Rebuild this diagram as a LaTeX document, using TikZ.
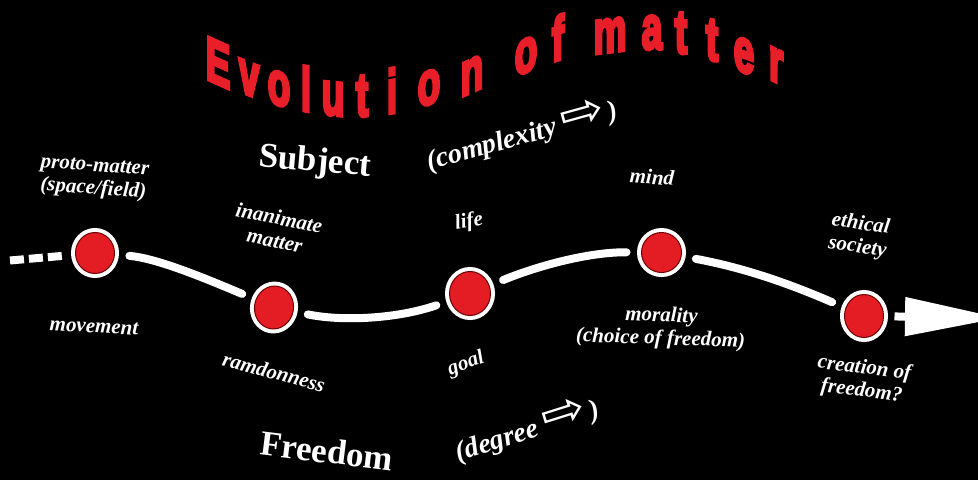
\documentclass[tikz,border=0pt]{standalone}
\usepackage{fontspec}
\setmainfont{Liberation Serif}
\newfontfamily\titlefont{Liberation Sans}[BoldFeatures={FakeBold=6}]
\newfontfamily\symfont{DejaVu Sans}
\usetikzlibrary{shapes.geometric,arrows.meta}
\definecolor{titlered}{RGB}{232,30,40}
\definecolor{dotred}{RGB}{228,28,36}
\definecolor{ringdark}{RGB}{110,0,0}
\newcommand{\hollowarrow}{{\normalfont\symfont\fontsize{28}{28}\selectfont\scalebox{1.9}[1.7]{⇨}}}
\begin{document}
\begin{tikzpicture}[x=1pt,y=-1pt,
  lbl/.style={text=white, font=\bfseries\itshape\fontsize{21}{23}\selectfont, align=center, inner sep=0pt},
  bigword/.style={text=white, font=\bfseries\fontsize{35}{36}\selectfont, inner sep=0pt},
  paren/.style={text=white, font=\bfseries\itshape\fontsize{28}{29}\selectfont, inner sep=0pt},
  ttl/.style={text=titlered, font=\titlefont\bfseries\fontsize{56}{56}\selectfont, inner sep=0pt, anchor=base, xscale=0.66, yscale=1.1},
  dotc/.style={ellipse, inner sep=0pt, outer sep=0pt, fill=dotred, draw=ringdark, line width=1pt, preaction={draw=white, line width=9pt}},
  conn/.style={draw=white, line width=8pt, line cap=round, shorten <=15pt, shorten >=15pt},
]
\useasboundingbox (0,0) rectangle (978,480);
\clip (0,0) rectangle (978,480);
\fill[black] (0,0) rectangle (978,480);

% title letters
\foreach \ch/\x/\y/\s [count=\i] in {E/218/84/-0.45, v/249/95/-0.4, o/279/105/-0.3, l/306/111/-0.2, u/333/115/-0.1, t/362/116/0, i/392/113/0.15, o/429/104/0.3, n/472/92/0.45, o/526/72/0.4, f/558/60/0.3, m/610/52/0.12, a/652/49/0, t/681/53/-0.1, t/712/60/-0.2, e/744/72/-0.35, r/776/82/-0.5}
  \node[yslant=\s, ttl] (t\i) at (\x,\y) {\ch};

% dots
\node[dotc, minimum width=39pt, minimum height=41pt] (c1) at (95,253) {};
\node[dotc, minimum width=39pt, minimum height=43pt, rotate=-10] (c2) at (274,307.5) {};
\node[dotc, minimum width=41pt, minimum height=44pt] (c3) at (470,293.5) {};
\node[dotc, minimum width=40pt, minimum height=40pt] (c4) at (661.5,252.5) {};
\node[dotc, minimum width=39pt, minimum height=43pt] (c5) at (864,316) {};

% connectors
\coordinate (start) at (10,260.5);
\coordinate (tip) at (1001,318);
\draw[white, line width=8pt, dash pattern=on 14pt off 5pt, shorten >=10.5pt] (start) -- (c1);
\draw[conn] (c1) .. controls (155,258) and (200,276) .. (c2);
\draw[conn] (c2) .. controls (345,322) and (400,318) .. (c3);
\draw[conn] (c3) .. controls (540,265) and (590,252) .. (c4);
\draw[conn] (c4) .. controls (745,268) and (790,284) .. (c5);
\draw[white, line width=8pt, shorten <=11pt, -{Triangle[length=96pt,width=37pt]}] (c5) -- (tip);

% labels
\node[lbl, rotate=-4] (proto) at (94,179) {proto-matter\\(space/field)};
\node[lbl, rotate=-11] (inan) at (277,229) {inanimate\\matter};
\node[lbl, rotate=-3] (move) at (94,327) {movement};
\node[lbl, rotate=-15] (ramd) at (274,372) {ramdonness};
\node[lbl, rotate=10] (life) at (469,222) {life};
\node[lbl, rotate=20] (goal) at (466,364) {goal};
\node[lbl, rotate=-4] (mind) at (652,177) {mind};
\node[lbl, rotate=-2] (moral) at (661,328) {morality\\(choice of freedom)};
\node[lbl, rotate=-8] (ethic) at (859,236) {ethical\\society};
\node[lbl, rotate=-7] (creat) at (863,380) {creation of\\freedom?};
\node[bigword, rotate=-5] (subj) at (315,163) {Subject};
\node[bigword, rotate=-7] (free) at (327,451) {Freedom};
\node[paren, rotate=15.5] (cplx) at (522,134) {(complexity\hspace{6pt}\hollowarrow\hspace{4pt})};
\node[paren, rotate=17.5] (degr) at (527,429) {(degree\hspace{6pt}\hollowarrow\hspace{4pt})};
\end{tikzpicture}
\end{document}
